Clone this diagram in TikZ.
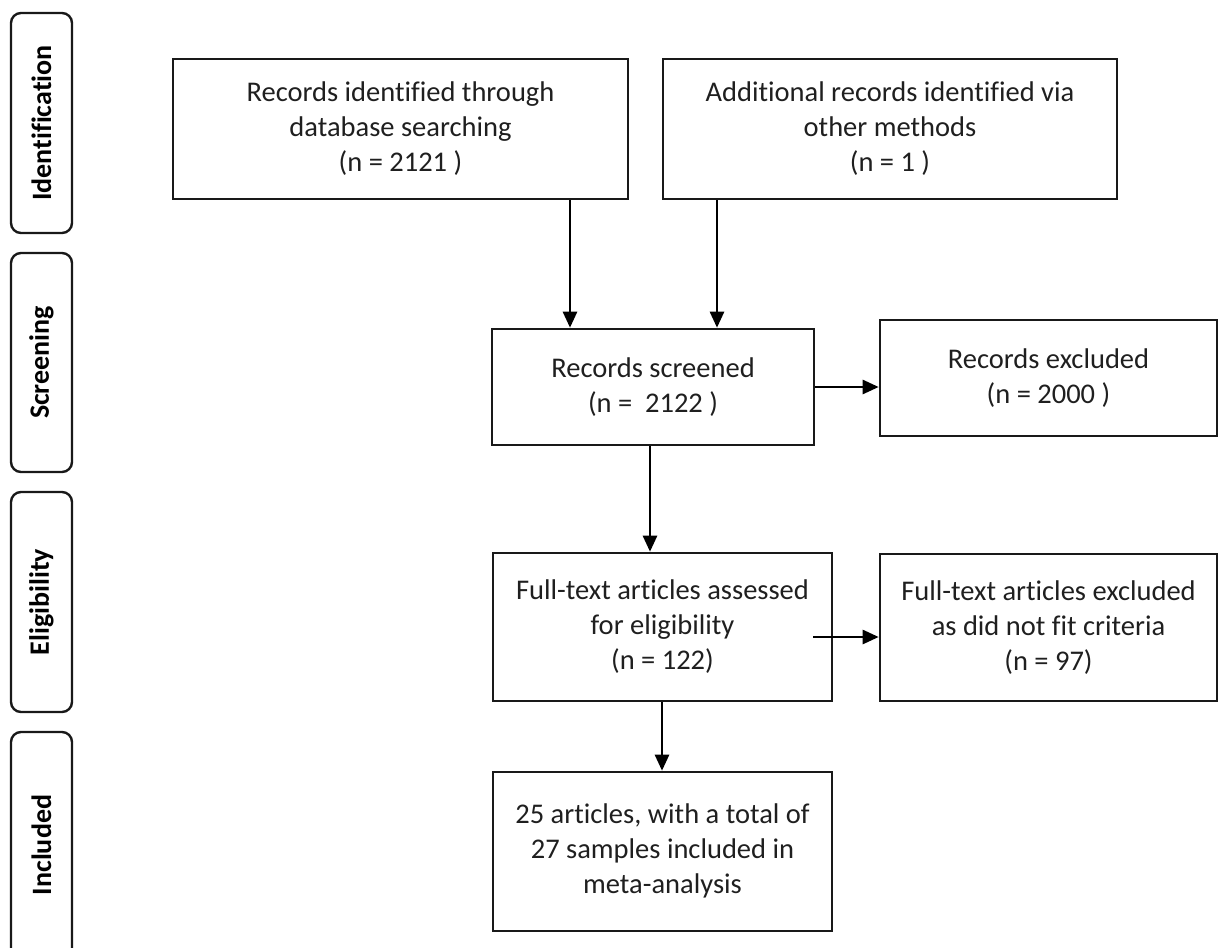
\documentclass[tikz,border=0pt]{standalone}
\usepackage{fontspec}
\setmainfont[Ligatures=NoCommon]{Carlito}
\usetikzlibrary{arrows.meta}
\tikzset{
  flowbox/.style={draw=black!90, line width=2.6pt, rectangle, align=center, inner sep=0pt,
    font=\fontsize{28.5}{35}\selectfont, text=black!88},
  phase/.style={draw=black!90, line width=2.4pt, rounded corners=10pt, rectangle, inner sep=0pt,
    minimum width=61pt, font=\fontsize{28}{32}\selectfont\bfseries, rotate=90},
  arr/.style={line width=2.6pt, draw=black, -{Triangle[length=16pt,width=14pt]}}
}
\begin{document}
\begin{tikzpicture}[x=1pt,y=-1pt]
\useasboundingbox (0,0) rectangle (1219,948);
% phase labels
\node[phase, minimum width=220pt, minimum height=61pt] (pid) at (41.5,123) {Identification};
\node[phase, minimum width=219pt, minimum height=61pt] (psc) at (41.5,362.5) {Screening};
\node[phase, minimum width=220pt, minimum height=61pt] (pel) at (41.5,602) {Eligibility};
\node[phase, minimum width=226pt, minimum height=61pt] (pin) at (41.5,845) {Included};
% boxes
\node[flowbox, minimum width=455pt, minimum height=140pt] (b1) at (400.5,129)
  {Records identified through\\database searching\\(n = 2121 )};
\node[flowbox, minimum width=454pt, minimum height=140pt] (b2) at (890,129)
  {Additional records identified via\\other methods\\(n = 1 )};
\node[flowbox, minimum width=322pt, minimum height=116pt] (scr) at (653,387)
  {Records screened\\(n =\ \ 2122 )};
\node[flowbox, minimum width=337pt, minimum height=116pt] (exc1) at (1048.5,378)
  {Records excluded\\(n = 2000 )};
\node[flowbox, minimum width=339pt, minimum height=148pt] (ft) at (662.5,627)
  {Full-text articles assessed\\for eligibility\\(n = 122)};
\node[flowbox, minimum width=337pt, minimum height=147pt] (exc2) at (1048.5,627.5)
  {Full-text articles excluded\\as did not fit criteria\\(n = 97)};
\node[flowbox, minimum width=339pt, minimum height=159pt] (inc) at (662.5,851.5)
  {\raisebox{5pt}{\begin{tabular}{@{}c@{}}25 articles, with a total of\\27 samples included in\\meta-analysis\end{tabular}}};
% connector guides
\coordinate (xa) at (570,0);
\coordinate (xb) at (717,0);
\coordinate (xc) at (650,0);
\coordinate (xd) at (662,0);
\coordinate (ya) at (0,387);
\coordinate (yb) at (0,637);
\coordinate (xs) at (813,0);
% connectors
\draw[arr] (b1.south -| xa) -- (scr.north -| xa);
\draw[arr] (b2.south -| xb) -- (scr.north -| xb);
\draw[arr] (scr.east |- ya) -- (exc1.west |- ya);
\draw[arr] (scr.south -| xc) -- (ft.north -| xc);
\draw[arr] (xs |- yb) -- (exc2.west |- yb);
\draw[arr] (ft.south -| xd) -- (inc.north -| xd);
\end{tikzpicture}
\end{document}
